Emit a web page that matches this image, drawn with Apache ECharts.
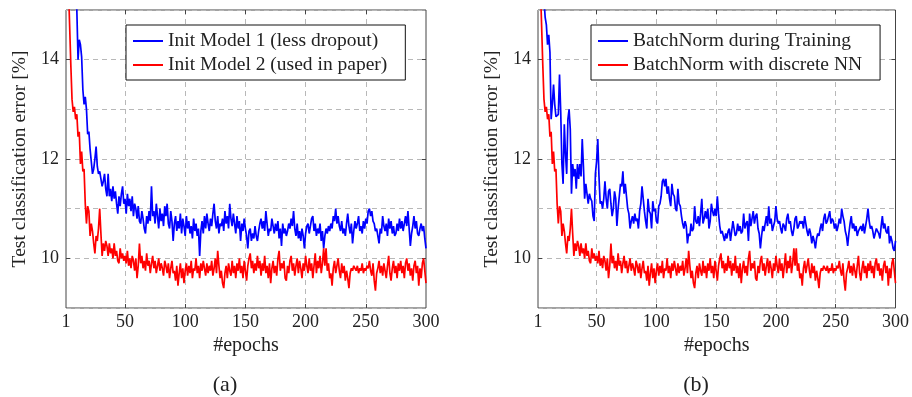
<!DOCTYPE html>
<html>
<head>
<meta charset="utf-8">
<script src="https://cdn.jsdelivr.net/npm/echarts@6/dist/echarts.min.js"></script>
<style>
  html, body { margin: 0; padding: 0; background: #fff; }
  #chart { width: 912px; height: 397px; }
</style>
</head>
<body>
<div id="chart"></div>
<script>
// x tick labels / ticks
const xLabels = [1, 50, 100, 150, 200, 250, 300];
const xTicks = [50, 100, 150, 200, 250];
const yTicks = [10, 12, 14];

// (a) Init Model 1 (less dropout), epochs 1..300
const initModel1 = [
  19.0, 18.5, 18.0, 17.5, 17.0, 16.5, 16.0, 15.6, 15.3, 15.0,
  14.0, 14.4, 14.3, 14.05, 13.4, 13.1, 13.25, 13.0, 12.5, 12.55,
  12.2, 11.95, 11.7, 11.8, 12.0, 12.25, 11.85, 11.7, 11.75, 11.6,
  11.45, 11.55, 11.7, 11.4, 11.25, 11.7, 11.25, 11.4, 11.15, 11.45,
  11.2, 11.35, 11.1, 10.9, 11.25, 11.05, 11.3, 11.45, 11.1, 11.2,
  10.9, 11.3, 11.05, 11.2, 10.95, 11.25, 10.85, 11.1, 11.0, 10.8,
  11.05, 10.75, 10.7, 10.95, 10.8, 10.6, 10.5, 10.85, 10.7, 10.95,
  10.75, 11.45, 10.85, 10.95, 10.7, 11.1, 10.85, 10.6, 11.0, 10.75,
  10.9, 10.65, 11.05, 10.85, 11.1, 10.7, 10.6, 10.95, 10.75, 10.35,
  10.7, 10.85, 10.55, 10.75, 10.6, 10.9, 10.5, 10.8, 10.65, 10.45,
  10.85, 10.6, 10.75, 10.5, 10.65, 10.4, 10.8, 10.55, 10.7, 10.45,
  10.6, 10.05, 10.55, 10.75, 10.5, 10.85, 10.6, 10.9, 10.7, 10.55,
  10.8, 10.65, 10.9, 11.1, 10.75, 10.6, 10.85, 10.5, 10.7, 10.65,
  10.8, 10.55, 10.95, 10.7, 10.85, 10.6, 11.1, 10.8, 10.65, 10.9,
  10.7, 10.5, 10.85, 10.6, 10.75, 10.35, 10.7, 10.55, 10.8, 10.6,
  10.45, 10.2, 10.55, 10.6, 10.35, 10.5, 10.4, 10.65, 10.45, 10.35,
  10.55, 10.7, 10.8, 10.6, 10.75, 10.55, 10.95, 10.7, 10.45, 10.6,
  10.55, 10.8, 10.65, 10.5, 10.7, 10.55, 10.75, 10.4, 10.6, 10.25,
  10.7, 10.5, 10.6, 10.45, 10.55, 10.7, 10.6, 10.8, 10.65, 10.95,
  10.6, 10.45, 10.7, 10.4, 10.55, 10.35, 10.6, 10.45, 10.2, 10.5,
  10.65, 10.7, 10.5, 10.65, 10.8, 10.85, 10.55, 10.7, 10.45, 10.6,
  10.5, 10.7, 10.35, 10.55, 10.2, 10.45, 10.6, 10.5, 10.65, 10.55,
  10.7, 10.6, 10.85, 10.75, 11.0, 10.7, 10.85, 10.65, 10.55, 10.75,
  10.5, 10.6, 10.45, 10.7, 10.9, 10.65, 10.5, 10.7, 10.3, 10.55,
  10.75, 10.6, 10.7, 10.85, 10.55, 10.65, 10.5, 10.75, 10.6, 10.8,
  10.7, 10.95, 11.0, 10.85, 10.95, 10.75, 10.7, 10.55, 10.6, 10.45,
  10.3, 10.6, 10.5, 10.85, 10.65, 10.55, 10.7, 10.45, 10.8, 10.6,
  10.75, 10.5, 10.65, 10.45, 10.5, 10.7, 10.55, 10.8, 10.6, 10.75,
  10.55, 10.7, 10.85, 10.65, 10.95, 10.6, 10.25, 10.5, 10.65, 10.85,
  10.6, 10.75, 10.5, 10.45, 10.6, 10.7, 10.55, 10.65, 10.4, 10.2
];

// (b) BatchNorm during Training, epochs 1..300
const bnTraining = [
  19.5, 18.5, 17.5, 16.5, 15.8, 15.2, 14.85, 14.7, 14.3, 14.5,
  14.15, 12.8, 13.1, 13.5, 13.1, 12.85, 12.85, 12.9, 13.7, 12.95,
  11.9, 11.5, 12.7, 12.1, 11.7, 12.8, 13.0, 12.6, 11.3, 11.9,
  11.65, 11.8, 11.4, 11.9, 11.6, 11.9, 11.65, 12.4, 11.85, 11.2,
  11.5, 11.3, 11.1, 11.3, 11.2, 11.15, 10.85, 10.75, 11.7, 11.95,
  12.4, 11.65, 11.1, 11.15, 11.0, 11.2, 11.55, 11.2, 11.0, 11.35,
  11.4, 11.1, 10.85, 11.0, 11.35, 11.2, 10.65, 11.0, 11.25, 11.5,
  11.45, 11.75, 11.3, 11.5, 11.25, 11.0, 10.9, 10.6, 10.75, 10.85,
  10.7, 10.9, 10.75, 10.8, 10.6, 10.95, 11.1, 11.45, 11.2, 10.95,
  10.75, 10.6, 11.2, 10.95, 10.9, 10.6, 11.15, 10.95, 11.0, 10.75,
  10.7, 11.05, 11.1, 11.25, 11.55, 11.6, 11.45, 11.6, 11.3, 11.45,
  11.2, 11.05, 11.5, 11.3, 11.25, 11.0, 10.95, 11.4, 11.1, 11.05,
  10.85, 10.7, 10.6, 10.75, 10.65, 10.3, 10.5, 10.45, 10.7, 10.55,
  10.6, 11.05, 10.75, 10.7, 10.85, 10.65, 10.9, 11.2, 10.7, 10.8,
  10.95, 10.8, 11.0, 10.6, 10.75, 11.1, 10.95, 10.85, 11.0, 10.85,
  11.25, 10.9, 10.65, 10.5, 10.55, 10.45, 10.35, 10.5, 10.4, 10.55,
  10.6, 10.35, 10.55, 10.75, 10.6, 10.45, 10.5, 10.7, 10.55, 10.65,
  10.5, 10.55, 10.9, 10.6, 10.7, 10.75, 10.35, 10.9, 10.65, 10.8,
  10.95, 10.7, 10.85, 10.9, 10.6, 10.5, 10.2, 10.45, 10.65, 10.55,
  10.7, 10.85, 10.65, 11.05, 10.7, 10.8, 10.55, 10.65, 10.75, 11.05,
  10.8, 10.7, 10.75, 10.6, 10.5, 10.7, 10.65, 10.55, 10.8, 10.9,
  10.7, 10.75, 10.55, 10.45, 10.6, 10.8, 10.85, 10.6, 10.65, 10.75,
  10.7, 10.75, 10.6, 10.85, 10.7, 10.55, 10.45, 10.6, 10.5, 10.3,
  10.45, 10.35, 10.2, 10.4, 10.5, 10.45, 10.6, 10.7, 10.55, 10.8,
  10.9, 10.7, 10.75, 10.85, 10.95, 10.7, 10.8, 10.75, 10.6, 10.7,
  10.55, 10.65, 10.8, 10.7, 11.0, 10.85, 10.75, 10.55, 10.45, 10.25,
  10.5, 10.7, 10.85, 10.6, 10.7, 10.55, 10.65, 10.45, 10.55, 10.6,
  10.65, 10.55, 10.7, 10.5, 10.65, 10.8, 11.0, 10.75, 10.6, 10.65,
  10.55, 10.4, 10.5, 10.6, 10.55, 10.5, 10.4, 10.65, 10.85, 10.6,
  10.7, 10.55, 10.5, 10.65, 10.3, 10.45, 10.35, 10.2, 10.15, 10.35
];

// red curve: same run in both panels (Init Model 2 == BatchNorm with discrete NN)
const discreteNN = [
  17.5, 16.3, 15.5, 14.7, 13.9, 13.2, 12.95, 13.05, 12.8, 12.9,
  12.45, 12.55, 11.9, 12.15, 11.75, 11.8, 11.1, 10.7, 11.05, 10.95,
  10.45, 10.7, 10.55, 10.3, 10.1, 10.45, 10.35, 10.6, 11.0, 10.5,
  10.05, 10.3, 10.15, 10.35, 10.25, 10.05, 10.3, 10.1, 10.2, 10.0,
  10.3, 10.05, 10.15, 9.95, 9.9, 10.2, 10.0, 10.1, 9.95, 10.05,
  9.9, 10.15, 9.85, 10.0, 9.8, 10.05, 9.95, 9.75, 10.0, 9.6,
  9.85, 10.3, 9.9, 10.05, 9.8, 9.95, 9.75, 10.1, 9.85, 9.95,
  9.7, 9.9, 10.05, 9.8, 9.95, 9.7, 9.85, 10.0, 9.75, 9.9,
  9.8, 9.65, 9.95, 9.85, 9.7, 9.9, 9.6, 9.8, 9.95, 9.7,
  9.75, 9.55, 9.85, 9.45, 9.7, 9.9, 9.6, 9.8, 9.5, 9.75,
  9.9, 9.65, 9.85, 9.7, 9.95, 9.6, 9.8, 9.75, 10.0, 9.7,
  9.85, 9.6, 9.9, 9.75, 9.95, 9.8, 9.65, 9.9, 9.7, 9.85,
  9.75, 9.95, 9.65, 9.8, 10.0, 9.7, 10.15, 9.85, 9.6, 9.75,
  9.5, 9.4, 9.7, 9.85, 9.6, 9.9, 9.75, 9.65, 9.95, 9.7,
  9.85, 9.6, 9.9, 9.75, 10.0, 9.7, 9.85, 9.6, 9.95, 9.75,
  9.55, 9.85, 10.0, 10.1, 9.8, 9.95, 9.7, 9.9, 9.75, 10.05,
  9.8, 9.95, 9.65, 9.9, 9.75, 10.05, 9.7, 9.85, 9.6, 9.9,
  9.5, 9.8, 9.95, 9.7, 9.85, 9.65, 10.0, 10.15, 9.75, 9.9,
  9.8, 9.95, 9.6, 9.55, 9.85, 9.7, 9.95, 10.05, 9.75, 9.9,
  9.65, 9.85, 10.0, 9.7, 9.95, 9.8, 9.6, 9.9, 9.75, 10.05,
  9.85, 9.7, 10.0, 9.75, 9.9, 9.6, 9.85, 10.1, 9.7, 9.95,
  9.8, 10.05, 9.7, 9.9, 10.2, 9.85, 10.2, 9.75, 9.9, 9.6,
  9.7, 9.45, 9.8, 9.95, 9.7, 9.85, 10.0, 9.75, 9.6, 9.9,
  9.7, 9.85, 9.55, 9.75, 9.6, 9.4, 9.7, 9.8, 9.75, 9.85,
  9.8, 9.75, 9.85, 9.7, 9.8, 9.75, 9.9, 9.7, 9.8, 9.75,
  9.85, 9.8, 9.95, 9.75, 9.65, 9.9, 9.55, 9.35, 9.7, 9.8,
  9.95, 9.7, 9.85, 9.65, 9.9, 9.75, 9.6, 9.85, 10.05, 9.7,
  9.55, 9.8, 9.95, 9.7, 9.85, 9.6, 9.9, 9.75, 9.95, 9.7,
  9.85, 9.6, 9.9, 10.0, 9.75, 9.9, 9.65, 9.8, 9.55, 9.85,
  9.95, 9.7, 9.85, 9.45, 9.8, 9.6, 9.9, 10.0, 9.75, 9.5
];

const FONT = 'Liberation Serif';
const TEXT = '#222';
const GRID_LINE = '#b8b8b8';
const FRAME = '#444';

const toPairs = arr => arr.map((v, i) => [i + 1, v]);

const panels = [
  { left: 66, width: 360, names: ['Init Model 1 (less dropout)', 'Init Model 2 (used in paper)'], blue: initModel1, legendLeft: 126 },
  { left: 538, width: 359, names: ['BatchNorm during Training', 'BatchNorm with discrete NN'], blue: bnTraining, legendLeft: 591 }
];

const grid = [];
const xAxis = [];
const yAxis = [];
const series = [];
const legend = [];

panels.forEach((p, gi) => {
  grid.push({ left: p.left, top: 10, width: p.width, height: 298, show: true, borderColor: FRAME, borderWidth: 1, backgroundColor: 'transparent' });

  // bottom axis: labels + grid lines
  xAxis.push({
    type: 'value', gridIndex: gi, min: 1, max: 300,
    name: '#epochs', nameLocation: 'middle', nameGap: 27,
    nameTextStyle: { fontFamily: FONT, fontSize: 20, color: TEXT },
    axisLine: { show: false },
    axisTick: { show: true, inside: true, length: 4, customValues: xTicks, lineStyle: { color: FRAME } },
    axisLabel: { customValues: xLabels, fontFamily: FONT, fontSize: 18, color: TEXT, margin: 5 },
    splitLine: { show: true, lineStyle: { color: GRID_LINE, type: [5, 4], width: 1 } }
  });
  // top axis: ticks only
  xAxis.push({
    type: 'value', gridIndex: gi, min: 1, max: 300, position: 'top',
    axisLine: { show: false },
    axisTick: { show: true, inside: true, length: 4, customValues: xTicks, lineStyle: { color: FRAME } },
    axisLabel: { show: false },
    splitLine: { show: false }
  });

  yAxis.push({
    type: 'value', gridIndex: gi, min: 9, max: 15, interval: 1,
    name: 'Test classification error [%]', nameLocation: 'middle', nameGap: 36,
    nameTextStyle: { fontFamily: FONT, fontSize: 19.5, color: TEXT },
    axisLine: { show: false },
    axisTick: { show: false },
    axisLabel: {
      fontFamily: FONT, fontSize: 18, color: TEXT, margin: 7,
      formatter: v => (v % 2 === 0 ? String(v) : '')
    },
    splitLine: { show: true, lineStyle: { color: GRID_LINE, type: [5, 4], width: 1 } }
  });
  ['left', 'right'].forEach(pos => {
    yAxis.push({
      type: 'value', gridIndex: gi, min: 9, max: 15, position: pos,
      axisLine: { show: false },
      axisTick: { show: true, inside: true, length: 4, customValues: yTicks, lineStyle: { color: FRAME } },
      axisLabel: { show: false },
      splitLine: { show: false }
    });
  });

  const xi = gi * 2;
  const yi = gi * 3;
  series.push({
    name: p.names[0], type: 'line', xAxisIndex: xi, yAxisIndex: yi,
    data: toPairs(p.blue), symbol: 'none', clip: true,
    lineStyle: { color: '#0000ff', width: 1.7 }, itemStyle: { color: '#0000ff' }
  });
  series.push({
    name: p.names[1], type: 'line', xAxisIndex: xi, yAxisIndex: yi,
    data: toPairs(discreteNN), symbol: 'none', clip: true,
    lineStyle: { color: '#ff0000', width: 1.7 }, itemStyle: { color: '#ff0000' }
  });

  legend.push({
    data: p.names, left: p.legendLeft, top: 25, orient: 'vertical',
    icon: 'rect', itemWidth: 30, itemHeight: 2, itemGap: 4,
    backgroundColor: '#fff', borderColor: '#111', borderWidth: 1, borderRadius: 0,
    padding: [6, 18, 5, 7],
    textStyle: { fontFamily: FONT, fontSize: 19.5, color: TEXT }
  });
});

const option = {
  animation: false,
  backgroundColor: '#fff',
  grid,
  xAxis,
  yAxis,
  legend,
  series,
  graphic: [
    { type: 'text', x: 225, y: 385, style: { text: '(a)', fontFamily: FONT, fontSize: 22, fill: TEXT, align: 'center', verticalAlign: 'middle' } },
    { type: 'text', x: 696, y: 385, style: { text: '(b)', fontFamily: FONT, fontSize: 22, fill: TEXT, align: 'center', verticalAlign: 'middle' } }
  ]
};

const myChart = echarts.init(document.getElementById('chart'), null, { renderer: 'canvas' });
myChart.setOption(option);
</script>
</body>
</html>
